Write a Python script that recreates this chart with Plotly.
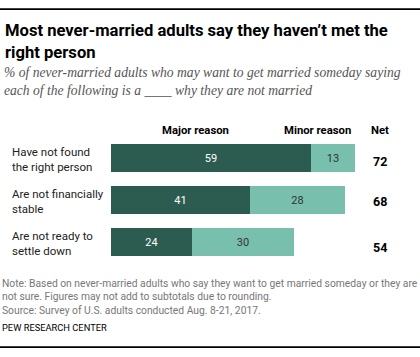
import plotly.graph_objects as go

categories = ["Have not found<br>the right person", "Are not financially<br>stable", "Are not ready to<br>settle down"]
major = [59, 41, 24]
minor = [13, 28, 30]
net = [72, 68, 54]

W, H = 420, 357
DARK = "#2c5b4f"
LIGHT = "#78bfae"
SANS = "Roboto, Arial, sans-serif"

def px_x(p):
    return p / W

def px_y(p):
    return 1 - p / H

R = 90
x0, x1 = 111, 111 + 3.39 * R
y_top, y_bot = 137, 263
ys = list(range(len(categories)))

fig = go.Figure()
fig.add_trace(go.Bar(
    y=ys, x=major, orientation="h", marker=dict(color=DARK, line=dict(width=0)),
    text=[str(v) for v in major], textposition="inside", insidetextanchor="middle",
    textfont=dict(family=SANS, size=11, color="white"), width=0.667,
    hoverinfo="skip", name="Major reason"))
fig.add_trace(go.Bar(
    y=ys, x=minor, orientation="h", marker=dict(color=LIGHT, line=dict(width=0)),
    text=[str(v) for v in minor], textposition="inside", insidetextanchor="middle",
    textfont=dict(family=SANS, size=11, color="#333333"), width=0.667,
    hoverinfo="skip", name="Minor reason"))

fig.update_layout(
    barmode="stack", width=W, height=H, margin=dict(l=0, r=0, t=0, b=0, pad=0),
    plot_bgcolor="rgba(0,0,0,0)", paper_bgcolor="white", showlegend=False,
    bargap=0,
    xaxis=dict(domain=[px_x(x0), px_x(x1)], range=[0, R], visible=False, fixedrange=True),
    yaxis=dict(domain=[px_y(y_bot), px_y(y_top)], range=[len(categories) - 0.5, -0.5],
               visible=False, fixedrange=True),
    uniformtext=dict(minsize=8, mode="show"),
)

ann = []
ann.append(dict(x=px_x(3), y=px_y(19), xref="paper", yref="paper", xanchor="left", yanchor="top",
                text="<b>Most never-married adults say they haven’t met the<br>right person</b>",
                align="left", showarrow=False,
                font=dict(family=SANS, size=16.6, color="#000000")))
ann.append(dict(x=px_x(2), y=px_y(63), xref="paper", yref="paper", xanchor="left", yanchor="top",
                text="<i>% of never-married adults who may want to get married someday saying<br>each of the following is a ____ why they are not married</i>",
                align="left", showarrow=False,
                font=dict(family="Liberation Serif, serif", size=13.6, color="#555555")))
for txt, cx in [("Major reason", 195), ("Minor reason", 317), ("Net", 380)]:
    ann.append(dict(x=px_x(cx), y=px_y(130), xref="paper", yref="paper", xanchor="center", yanchor="middle",
                    text="<b>" + txt + "</b>", showarrow=False,
                    font=dict(family=SANS, size=11.3, color="#000000")))
centers = [158, 200, 242]
for cat, cy in zip(categories, centers):
    ann.append(dict(x=px_x(10), y=px_y(cy + 1), xref="paper", yref="paper", xanchor="left", yanchor="middle",
                    text=cat, align="left", showarrow=False,
                    font=dict(family=SANS, size=11.5, color="#222222")))
net_y = [162, 201, 247]
for v, cy in zip(net, net_y):
    ann.append(dict(x=px_x(380), y=px_y(cy), xref="paper", yref="paper", xanchor="center", yanchor="middle",
                    text="<b>" + str(v) + "</b>", showarrow=False,
                    font=dict(family=SANS, size=12.5, color="#000000")))
ann.append(dict(x=px_x(0), y=px_y(275), xref="paper", yref="paper", xanchor="left", yanchor="top",
                text="Note: Based on never-married adults who say they want to get married someday or they are<br>not sure. Figures may not add to subtotals due to rounding.<br>Source: Survey of U.S. adults conducted Aug. 8-21, 2017.",
                align="left", showarrow=False,
                font=dict(family=SANS, size=10.3, color="#777777")))
ann.append(dict(x=px_x(0), y=px_y(327), xref="paper", yref="paper", xanchor="left", yanchor="middle",
                text="PEW RESEARCH CENTER", showarrow=False,
                font=dict(family=SANS, size=9.3, color="#000000")))

# decorative top and bottom rules drawn as thin filled annotation boxes
for ry in (9, 347):
    ann.append(dict(x=0, y=px_y(ry), xref="paper", yref="paper", xanchor="left", yanchor="middle",
                    text=" ", showarrow=False, width=W, height=1, borderpad=0, borderwidth=0,
                    bgcolor="#000000", font=dict(size=1, color="#000000")))

shapes = [
    dict(type="line", xref="paper", yref="paper", x0=0, x1=1, y0=px_y(9), y1=px_y(9),
         line=dict(color="#000000", width=1.5), layer="above"),
    dict(type="line", xref="paper", yref="paper", x0=0, x1=1, y0=px_y(347), y1=px_y(347),
         line=dict(color="#000000", width=1.5), layer="above"),
]
fig.update_layout(annotations=ann, shapes=shapes)

fig.write_html("out.html", config={"displayModeBar": False},
               post_script="document.body.style.margin='0';")
